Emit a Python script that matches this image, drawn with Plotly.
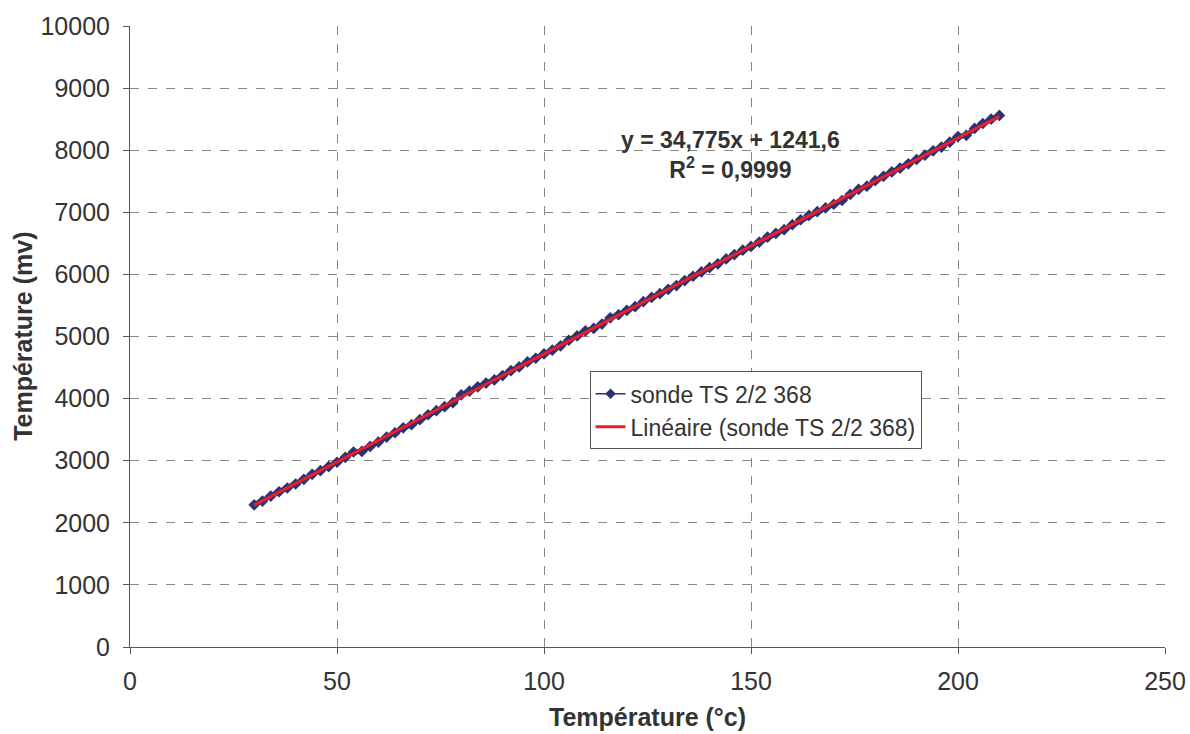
import plotly.graph_objects as go

# measured data (temperature in °C vs signal in mV)
temp_c = [30, 32, 34, 36, 38, 40, 42, 44, 46, 48, 50, 52, 54, 56, 58, 60,
          62, 64, 66, 68, 70, 72, 74, 76, 78, 80, 82, 84, 86, 88, 90, 92,
          94, 96, 98, 100, 102, 104, 106, 108, 110, 112, 114, 116, 118, 120,
          122, 124, 126, 128, 130, 132, 134, 136, 138, 140, 142, 144, 146,
          148, 150, 152, 154, 156, 158, 160, 162, 164, 166, 168, 170, 172,
          174, 176, 178, 180, 182, 184, 186, 188, 190, 192, 194, 196, 198,
          200, 202, 204, 206, 208, 210]
signal_mv = [2290, 2350, 2430, 2500, 2560, 2625, 2700, 2780, 2840, 2905,
             2975, 3055, 3140, 3150, 3230, 3300, 3380, 3450, 3530, 3580,
             3660, 3740, 3805, 3870, 3935, 4060, 4120, 4190, 4250, 4300,
             4370, 4450, 4510, 4590, 4650, 4720, 4780, 4850, 4940, 5010,
             5090, 5130, 5200, 5300, 5350, 5420, 5480, 5560, 5630, 5690,
             5760, 5820, 5900, 5970, 6040, 6110, 6170, 6250, 6320, 6390,
             6450, 6520, 6600, 6660, 6720, 6800, 6880, 6950, 7010, 7070,
             7130, 7190, 7290, 7370, 7420, 7510, 7580, 7650, 7710, 7780,
             7850, 7920, 7990, 8050, 8130, 8220, 8240, 8350, 8430, 8500,
             8560]

# linear trendline from the chart
slope = 34.775
intercept = 1241.6

series_name = "sonde TS 2/2 368"
trend_name = "Linéaire (sonde TS 2/2 368)"

FONT = "Liberation Sans, Arial, sans-serif"
TXT = "#333333"
NAVY = "#2E3172"

trend_x = [min(temp_c), max(temp_c)]
trend_y = [slope * t + intercept for t in trend_x]

fig = go.Figure()

# dense measured points: drawn thick, legend entry comes from a thin dummy
fig.add_trace(go.Scatter(
    x=temp_c, y=signal_mv, name=series_name, mode="lines+markers",
    line=dict(color=NAVY, width=5),
    marker=dict(symbol="diamond", size=9, color=NAVY),
    showlegend=False,
))
fig.add_trace(go.Scatter(
    x=[None], y=[None], name=series_name, mode="lines+markers",
    line=dict(color=NAVY, width=1.5),
    marker=dict(symbol="diamond", size=8, color=NAVY),
))

fig.add_trace(go.Scatter(
    x=trend_x, y=trend_y, name=trend_name, mode="lines",
    line=dict(color="#E8202A", width=3),
))

# equation of the trendline
fig.add_annotation(
    x=0.58, y=0.84, xref="paper", yref="paper", showarrow=False,
    text="<b>y = 34,775x + 1241,6</b><br><b>R<sup>2</sup> = 0,9999</b>",
    font=dict(family=FONT, size=23, color=TXT), align="center",
)

# axis titles placed by hand
fig.add_annotation(
    x=0.5, y=-0.113, xref="paper", yref="paper", showarrow=False,
    text="<b>Température (°c)</b>", font=dict(size=25, color=TXT),
    xanchor="center", yanchor="middle",
)
fig.add_annotation(
    x=-0.104, y=0.5, xref="paper", yref="paper", showarrow=False,
    text="<b>Température (mv)</b>", font=dict(size=25, color=TXT),
    textangle=-90, xanchor="center", yanchor="middle",
)

fig.update_layout(
    width=1190, height=734,
    margin=dict(l=130, r=25, t=26, b=87),
    paper_bgcolor="white", plot_bgcolor="white",
    font=dict(family=FONT, size=25, color=TXT),
    legend=dict(
        x=0.444, y=0.444, xanchor="left", yanchor="top",
        bgcolor="white", bordercolor="#555555", borderwidth=1,
        font=dict(size=23, color=TXT), tracegroupgap=0,
    ),
    showlegend=True,
)

fig.update_xaxes(
    range=[0, 250], dtick=50, showline=True, linecolor="#555555",
    ticks="outside", ticklen=6, tickcolor="#555555", tickformat="d",
    ticklabelstandoff=6,
    showgrid=True, gridcolor="#888888", griddash="dash", gridwidth=1,
    zeroline=False, automargin=False,
)
fig.update_yaxes(
    range=[0, 10000], dtick=1000, showline=True, linecolor="#555555",
    ticks="outside", ticklen=6, tickcolor="#555555", tickformat="d",
    ticklabelstandoff=8,
    showgrid=True, gridcolor="#888888", griddash="dash", gridwidth=1,
    zeroline=False, automargin=False,
)

# drop the default 8px page margin so the figure fills the window exactly
fig.write_html("out.html", config={"displayModeBar": False},
               post_script="document.body.style.margin='0';")
